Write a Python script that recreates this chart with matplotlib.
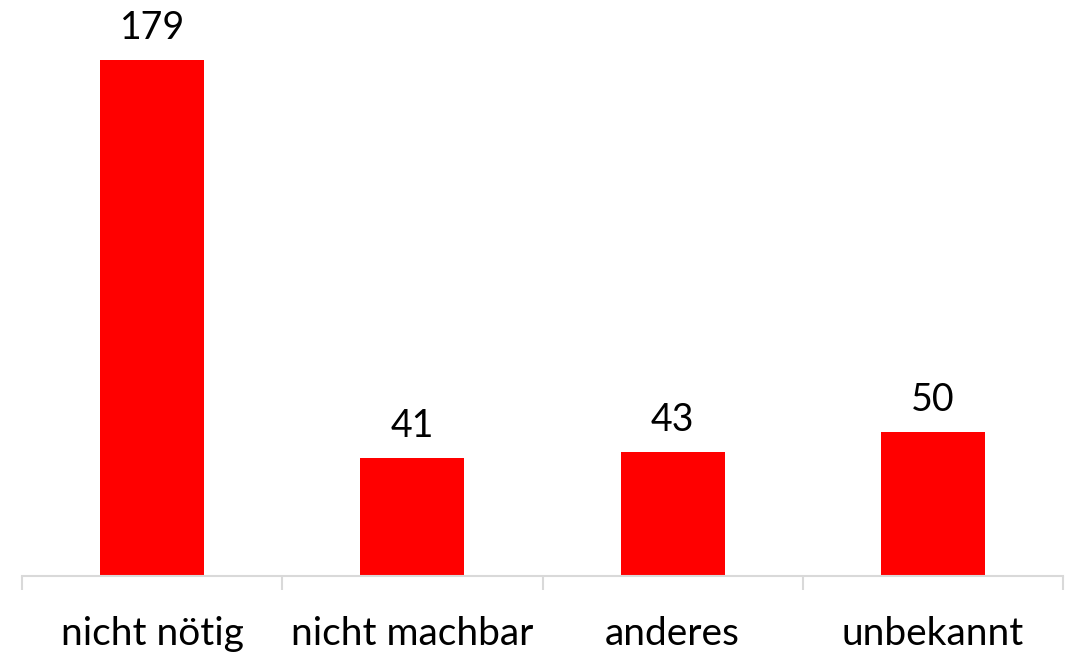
import matplotlib
matplotlib.use('Agg')
import matplotlib.pyplot as plt

categories = ['nicht nötig', 'nicht machbar', 'anderes', 'unbekannt']
counts = [179, 41, 43, 50]

plt.rcParams['font.family'] = ['Lato', 'DejaVu Sans']

fig = plt.figure(figsize=(10.76, 6.54), dpi=100)
ax = fig.add_axes([22 / 1076, 78 / 654, 1041 / 1076, 576 / 654])

x = list(range(len(categories)))
bars = ax.bar(x, counts, width=0.4, color='#ff0000')
for xi, v in zip(x, counts):
    ax.text(xi, v + 5, str(v), ha='center', va='bottom', fontsize=27)

ax.set_xlim(-0.5, len(categories) - 0.5)
ax.set_ylim(0, 200)
ax.set_yticks([])
for s in ['top', 'right', 'left']:
    ax.spines[s].set_visible(False)
ax.spines['bottom'].set_color('#d9d9d9')
ax.spines['bottom'].set_linewidth(1.5)

ax.set_xticks(x)
ax.set_xticklabels(categories, fontsize=28)
ax.tick_params(axis='x', which='major', length=0, pad=29)
ax.set_xticks([i - 0.5 for i in range(len(categories) + 1)], minor=True)
ax.tick_params(axis='x', which='minor', length=10, width=1.5, color='#d9d9d9')

fig.savefig('out.png', dpi=100)
